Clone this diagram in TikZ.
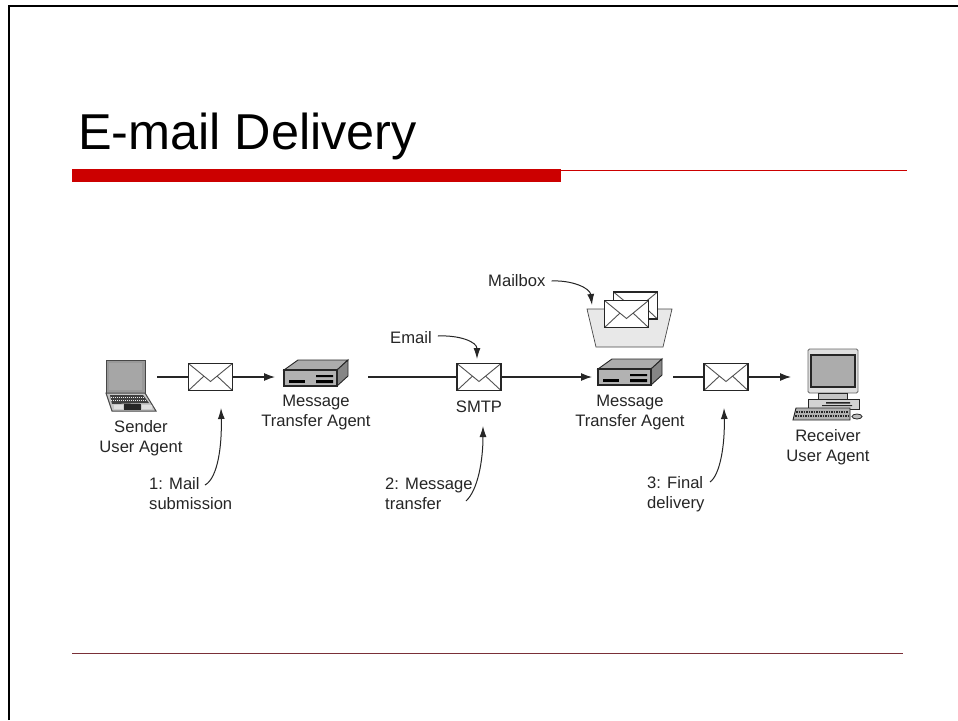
\documentclass[tikz,border=0pt]{standalone}
\usepackage{fontspec}
\setmainfont{Liberation Sans}
\definecolor{ink}{HTML}{262626}
\definecolor{slidered}{HTML}{CC0000}
\definecolor{footrule}{HTML}{7A3038}
\usetikzlibrary{arrows.meta}
\tikzset{
  envelope/.style={draw=ink,line width=1.7pt,fill=white,minimum width=44pt,minimum height=27pt,inner sep=0pt,
    path picture={
      \draw[ink!80,line width=.9pt]
        (path picture bounding box.north west) -- ([yshift=-18pt]path picture bounding box.north) -- (path picture bounding box.north east)
        (path picture bounding box.south west) -- ([xshift=15pt,yshift=14pt]path picture bounding box.south west)
        (path picture bounding box.south east) -- ([xshift=-15pt,yshift=14pt]path picture bounding box.south east);}},
  lbl/.style={font=\fontsize{16.6}{20}\selectfont,text=ink,inner sep=0pt,align=center},
  lbll/.style={lbl,align=left},
  flow/.style={draw=ink,line width=1.2pt},
  flowtip/.style={flow,-{Latex[length=11pt,width=8pt]}},
  note/.style={draw=ink,line width=1pt,-{Latex[length=11pt,width=7pt]}},
  pics/router/.style={code={
    \draw[ink,line width=.9pt,fill=gray!65] (0,10) -- (14,0) -- (64,0) -- (53,10) -- cycle;
    \draw[ink,line width=.9pt,fill=gray!95] (53,10) -- (64,0) -- (64,16) -- (53,26) -- cycle;
    \draw[ink,line width=1.3pt,fill=gray!60] (0,10) rectangle (53,26);
    \fill[black] (5,20) rectangle (21,23);
    \fill[black] (32,15) rectangle (49,17) (32,20) rectangle (49,23);
  }},
}
\begin{document}
\begin{tikzpicture}[x=1pt,y=-1pt]
\useasboundingbox (0,0) rectangle (958,720);
\fill[white] (0,0) rectangle (958,720);
% slide frame and rules
\draw[black,line width=2pt] (9,720) -- (9,6) -- (958,6);
\node[font=\fontsize{50.4}{50}\selectfont,text=black,anchor=base west,inner sep=0pt] (title) at (78,149) {E-mail Delivery};
\fill[slidered] (72,169) rectangle (561,182);
\draw[slidered,line width=1pt] (561,170) -- (907,170);
\draw[footrule,line width=.8pt] (72,653) -- (903,653);
% laptop
\draw[ink!85,line width=1pt,fill=gray!80] (106,360) rectangle (145,393);
\fill[gray!70] (109,363) rectangle (142,390);
\draw[ink!85,line width=1pt,fill=gray!45] (106,393) -- (145,393) -- (156,411) -- (112,411) -- cycle;
\fill[gray!50!black] (110,395) -- (143,395) -- (149,403) -- (112,404) -- cycle;
\draw[gray!15,line width=.5pt,dash pattern=on 1pt off 1pt] (111,397.5) -- (144,397.5) (111,400) -- (146,400);
\fill[ink] (124,404) rectangle (141,410);
\fill[gray!25] (114,405) rectangle (123,409) (142,405) rectangle (152,409);
% routers
\pic at (284,360) {router};
\pic at (598,359) {router};
% computer
\draw[ink!70,line width=.8pt,fill=gray!25,rounded corners=1.5pt] (808,349) rectangle (858,393);
\draw[ink,line width=1.4pt,fill=gray!65] (811,355) rectangle (855,387);
\draw[ink,line width=.8pt,fill=gray!45] (818,393) rectangle (847,399);
\draw[ink,line width=.9pt,fill=gray!35] (808,399) rectangle (859,409);
\fill[ink] (826,402) rectangle (850,403.5) (822,405) rectangle (852,406);
\draw[ink,line width=.9pt,fill=gray!60] (796,408) -- (850,408) -- (850,420) -- (793,420) -- cycle;
\draw[ink,line width=1.6pt,dash pattern=on 1.5pt off 1pt] (796,412) -- (848,412) (795,416) -- (849,416);
\draw[ink,line width=.8pt,fill=gray!50] (857,416.5) ellipse (5 and 2.5);
% mailbox
\draw[ink!85,line width=.7pt,fill=gray!18] (587,309) -- (672,309) -- (663,347) -- (596,347) -- cycle;
\node[envelope] (backmail) at (635.5,305.5) {};
\node[envelope] (frontmail) at (626.5,314) {};
% envelopes
\node[envelope] (env1) at (210.5,377) {};
\node[envelope] (env2) at (479,377) {};
\node[envelope] (env3) at (726,377) {};
% connector ends
\coordinate (s1) at (157,377);
\coordinate (t1) at (275,377);
\coordinate (s2) at (368,377);
\coordinate (t2) at (592,377);
\coordinate (s3) at (673,377);
\coordinate (t3) at (791,377);
\draw[flow] (s1) -- (env1);
\draw[flowtip] (env1) -- (t1);
\draw[flow] (s2) -- (env2);
\draw[flowtip] (env2) -- (t2);
\draw[flow] (s3) -- (env3);
\draw[flowtip] (env3) -- (t3);
% labels
\node[lbl] (sender) at (141,438) {Sender\\User Agent};
\node[lbl] (mta1) at (316,413) {Message\\Transfer Agent};
\node[lbl] (smtp) at (479,407) {SMTP};
\node[lbl] (mta2) at (630,413) {Message\\Transfer Agent};
\node[lbl] (receiver) at (828,447) {Receiver\\User Agent};
\node[lbll,anchor=west] (email) at (390,338) {Email};
\node[lbll,anchor=west] (mailbox) at (488,281) {Mailbox};
\node[lbll,anchor=west] (step1) at (149,494) {1: Mail\\submission};
\node[lbll,anchor=west] (step2) at (385,494) {2: Message\\transfer};
\node[lbll,anchor=west] (step3) at (647,494) {3: Final\\delivery};
% callouts
\coordinate (a1) at (221,408);
\coordinate (a2) at (483,426);
\coordinate (a3) at (724,408);
\coordinate (a4) at (477,359);
\coordinate (a5) at (592,305);
\draw[note] (205,485) .. controls (218,478) and (222,445) .. (a1);
\draw[note] (466,501) .. controls (478,490) and (483,460) .. (a2);
\draw[note] (710,482) .. controls (720,475) and (725,445) .. (a3);
\draw[note] (email.east) ++(6,-2) .. controls (460,335) and (477,342) .. (a4);
\draw[note] (mailbox.east) ++(6,0) .. controls (572,280) and (590,288) .. (a5);
\end{tikzpicture}
\end{document}
